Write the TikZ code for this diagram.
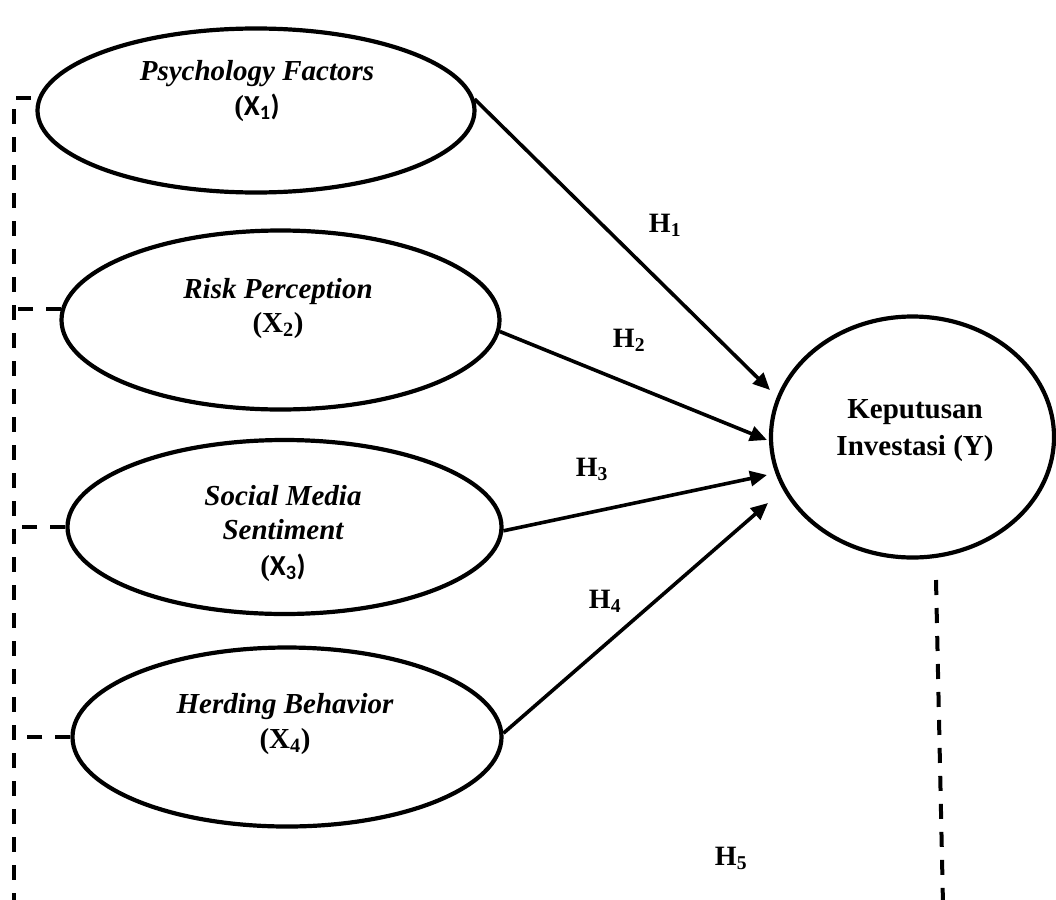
\documentclass[tikz,border=0pt]{standalone}
\usepackage{fontspec}
\setmainfont{Liberation Serif}
\newfontfamily\calfont{Carlito}
\usetikzlibrary{arrows.meta,calc,shapes.geometric}
\begin{document}
\begin{tikzpicture}[x=1pt,y=-1pt,
  ell/.style={draw,ellipse,line width=4.2pt,inner sep=0pt},
  txt/.style={anchor=base,inner sep=0pt,font=\fontsize{29}{35}\selectfont\bfseries},
  itxt/.style={txt,font=\fontsize{29}{35}\selectfont\bfseries\itshape},
  hlbl/.style={anchor=base,inner sep=0pt,font=\fontsize{28}{34}\selectfont\bfseries},
  arr/.style={line width=3.6pt,-{Triangle[length=17pt,width=15pt]}},
  dsh/.style={line width=4pt,dash pattern=on 15pt off 13pt}]
\useasboundingbox (0,0) rectangle (1056,899);

% ellipses
\node[ell,minimum width=437pt,minimum height=164pt] (e1) at (256,110.5) {};
\node[ell,minimum width=438pt,minimum height=179pt] (e2) at (280.5,320) {};
\node[ell,minimum width=434pt,minimum height=174pt] (e3) at (284.5,527) {};
\node[ell,minimum width=429pt,minimum height=179pt] (e4) at (287,737) {};
\node[ell,minimum width=283pt,minimum height=241pt] (y) at (912.5,437) {};

% texts
\node[itxt] (t1a) at (257,80) {Psychology Factors};
\node[txt]  (t1b) at (257,115) {(\calfont X\textsubscript{1})};
\node[itxt] (t2a) at (278,298) {Risk Perception};
\node[txt]  (t2b) at (278,332) {(X\textsubscript{2})};
\node[itxt] (t3a) at (283,505) {Social Media};
\node[itxt] (t3b) at (283,539) {Sentiment};
\node[txt]  (t3c) at (283,575) {(\calfont X\textsubscript{3})};
\node[itxt] (t4a) at (285,713) {Herding Behavior};
\node[txt]  (t4b) at (285,748) {(X\textsubscript{4})};
\node[txt]  (ta) at (915,418) {Keputusan};
\node[txt]  (tb) at (915,455) {Investasi (Y)};

% arrows
\draw[arr] (e1.3)  -- ($(y.center)+(-142.5,-47)$);
\draw[arr] (e2.-3) -- ($(y.center)+(-145.5,3)$);
\draw[arr] (e3.-1) -- ($(y.center)+(-145.5,38)$);
\draw[arr] (e4.1)  -- ($(y.center)+(-144.5,66)$);

% hypothesis labels
\node[hlbl] (h1) at (665,232) {H\textsubscript{1}};
\node[hlbl] (h2) at (629,347) {H\textsubscript{2}};
\node[hlbl] (h3) at (592,476) {H\textsubscript{3}};
\node[hlbl] (h4) at (605,608) {H\textsubscript{4}};
\node[hlbl] (h5) at (731,865) {H\textsubscript{5}};

% dashed lines
\coordinate (lt) at (31,98);
\coordinate (lc) at (14,98);
\coordinate (lb) at (14,905);
\draw[dsh] (lt) -- (lc) -- (lb);
\draw[dsh] (e2.177) -- (e2.177 -| lc);
\draw[dsh] (e3.west) -- (e3.west -| lc);
\draw[dsh] (e4.west) -- (e4.west -| lc);
\coordinate (rt) at (936,580);
\coordinate (rb) at (943,905);
\draw[dsh] (rt) -- (rb);
\end{tikzpicture}
\end{document}
